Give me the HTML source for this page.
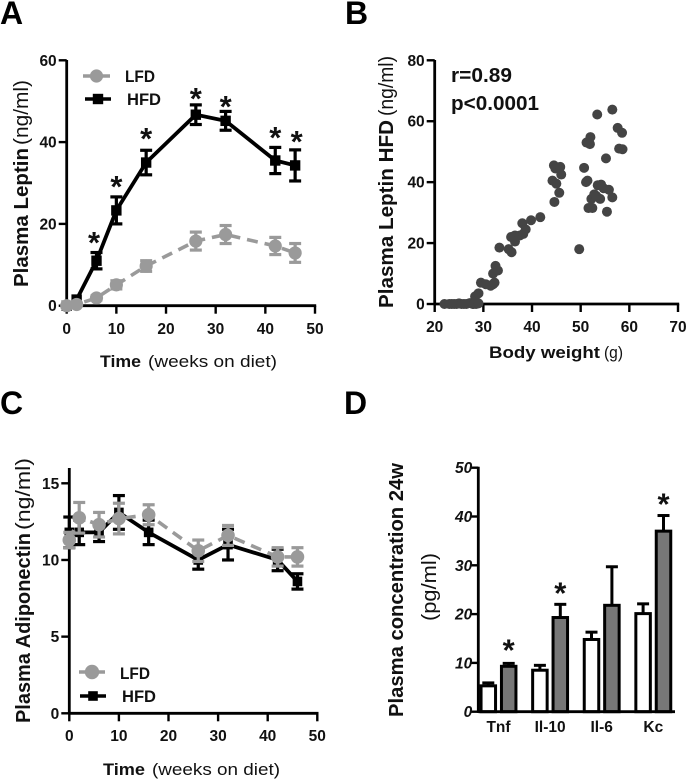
<!DOCTYPE html>
<html>
<head>
<meta charset="utf-8">
<style>
html,body{margin:0;padding:0;background:#fff;}
svg{display:block;}
text{font-family:"Liberation Sans",sans-serif;fill:#111;}
.b{font-weight:bold;}
.t{font-weight:bold;font-size:15.5px;}
.pl{font-weight:bold;font-size:32px;fill:#000;}
</style>
</head>
<body>
<svg id="fig" width="687" height="779" viewBox="0 0 687 779" xmlns="http://www.w3.org/2000/svg">
  <text class="pl" x="0" y="24">A</text>
  <text class="pl" x="345" y="24">B</text>
  <text class="pl" x="0" y="414">C</text>
  <text class="pl" x="344" y="414">D</text>

  <text class="b" transform="translate(28,287) rotate(-90)" font-size="20" textLength="139" lengthAdjust="spacingAndGlyphs">Plasma Leptin</text>
  <text transform="translate(28,145) rotate(-90)" font-size="20" textLength="65" lengthAdjust="spacingAndGlyphs">(ng/ml)</text>
  <text class="b" x="100" y="367" font-size="17" textLength="41" lengthAdjust="spacingAndGlyphs">Time</text>
  <text x="148" y="367" font-size="17" textLength="129" lengthAdjust="spacingAndGlyphs">(weeks on diet)</text>
  <text class="b" x="125" y="82" font-size="17" textLength="30" lengthAdjust="spacingAndGlyphs">LFD</text>
  <text class="b" x="127" y="105" font-size="17" textLength="34" lengthAdjust="spacingAndGlyphs">HFD</text>

  <text class="b" transform="translate(393,308) rotate(-90)" font-size="20" textLength="188" lengthAdjust="spacingAndGlyphs">Plasma Leptin HFD</text>
  <text transform="translate(393,116) rotate(-90)" font-size="20" textLength="60" lengthAdjust="spacingAndGlyphs">(ng/ml)</text>
  <text class="b" x="489" y="358" font-size="17" textLength="111" lengthAdjust="spacingAndGlyphs">Body weight</text>
  <text x="604" y="358" font-size="17" textLength="19" lengthAdjust="spacingAndGlyphs">(g)</text>
  <text class="b" x="451" y="82" font-size="20" textLength="61" lengthAdjust="spacingAndGlyphs">r=0.89</text>
  <text class="b" x="451" y="110" font-size="20" textLength="88" lengthAdjust="spacingAndGlyphs">p&lt;0.0001</text>

  <text class="b" transform="translate(30,723) rotate(-90)" font-size="20" textLength="190" lengthAdjust="spacingAndGlyphs">Plasma Adiponectin</text>
  <text transform="translate(30,530) rotate(-90)" font-size="20" textLength="72" lengthAdjust="spacingAndGlyphs">(ng/ml)</text>
  <text class="b" x="103" y="775" font-size="17" textLength="42" lengthAdjust="spacingAndGlyphs">Time</text>
  <text x="152" y="775" font-size="17" textLength="128" lengthAdjust="spacingAndGlyphs">(weeks on diet)</text>
  <text class="b" x="120" y="679" font-size="17" textLength="30" lengthAdjust="spacingAndGlyphs">LFD</text>
  <text class="b" x="122" y="702" font-size="17" textLength="34" lengthAdjust="spacingAndGlyphs">HFD</text>

  <text class="b" transform="translate(403,717) rotate(-90)" font-size="20" textLength="254" lengthAdjust="spacingAndGlyphs">Plasma concentration 24w</text>
  <text transform="translate(436,621) rotate(-90)" font-size="20" textLength="68" lengthAdjust="spacingAndGlyphs">(pg/ml)</text>
</svg>
<script>
// Panel A data
var aWeeks = [0, 2, 6, 10, 16, 26, 32, 42, 46];
var aLfd = [0, 0.3, 1.9, 5.1, 9.7, 15.8, 17.4, 14.6, 12.9];
var aLfdErr = [0, 0, 0.5, 1, 1.3, 2.2, 2.2, 2.1, 2.3];
var aHfd = [0, 1.5, 11, 23.3, 35, 46.7, 45.2, 35.5, 34.3];
var aHfdErr = [0, 0, 2, 3.3, 3, 2.4, 2.3, 3.2, 3.8];
var aStarWeeks = [5.5, 10, 16, 26, 32, 42, 46.3];
var aStarLevels = [16.8, 30.5, 42.2, 52, 50, 42.5, 41.5];
var aXTicks = [0, 10, 20, 30, 40, 50];
var aYTicks = [0, 20, 40, 60];
// Panel B data
var bWeight = [22,23,23.5,24,24.5,25,25.5,26,26.5,27.2,27.8,28,28.5,29,28.3,29,29.5,30.5,31.5,32,32.3,32,32.5,33,33.3,35.2,35.8,35.7,36.5,36.5,37.5,38,38.2,38.7,39.8,41.7,44.5,44.2,44.8,45.8,46,45,45.6,44.6,49.7,50.7,51.1,51.4,51.2,51.9,52,51.6,52.4,52.2,52.8,53.2,53.5,54,54.2,54.7,55.2,55.4,55.8,56.5,53.4,56.5,57.6,58.5,57.9,58.6];
var bLeptin = [0,0,0,0,0,0.2,0,0,0,0.3,0,0,0,0.2,2.5,3.5,7,6.5,6,6.5,7,10,12.5,11,18.5,18,17,22,22.5,20.5,22.5,26.5,23,24.5,27.5,28.5,45.5,40.5,44.5,45,42.5,39.5,36.5,33.5,18,44.7,40,40.5,53,52.5,54.8,31.5,31.5,34.5,36,35.5,39,34.5,39.2,38,47.8,30.3,37.5,35,62.2,63.8,57.8,56.2,51,50.8];
var bXTicks = [20, 30, 40, 50, 60, 70];
var bYTicks = [0, 20, 40, 60, 80];
// Panel C data
var cWeeks = [0, 2, 6, 10, 16, 26, 32, 42, 46];
var cLfd = [11.3, 12.75, 12.3, 12.7, 12.95, 10.6, 11.6, 10.2, 10.2];
var cLfdErr = [0.5, 1, 0.8, 1, 0.65, 0.7, 0.65, 0.6, 0.6];
var cHfd = [11.8, 11.8, 11.8, 13.1, 11.8, 10, 11, 10, 8.6];
var cHfdErr = [1, 0.8, 0.6, 1.1, 0.8, 0.6, 1, 0.7, 0.5];
var cXTicks = [0, 10, 20, 30, 40, 50];
var cYTicks = [0, 5, 10, 15];
// Panel D data
var dCategories = ["Tnf", "Il-10", "Il-6", "Kc"];
var dLfd = [5.3, 8.5, 14.8, 20.1];
var dLfdErr = [0.6, 1, 1.5, 2];
var dHfd = [9.3, 19.3, 21.8, 37];
var dHfdErr = [0.6, 2.7, 7.9, 3.2];
var dStarred = [1, 1, 0, 1];
var dStarLevels = [13.8, 25.5, 0, 43.7];
var dYTicks = [0, 10, 20, 30, 40, 50];

var NS = 'http://www.w3.org/2000/svg';
var svg = document.getElementById('fig');
var GREY = '#9a9a9a', BLACK = '#000';

function scale(d0, d1, p0, p1) {
  return function (v) { return p0 + (v - d0) / (d1 - d0) * (p1 - p0); };
}
function make(tag, attrs) {
  var e = document.createElementNS(NS, tag);
  for (var k in attrs) e.setAttribute(k, attrs[k]);
  svg.appendChild(e);
  return e;
}
function seg(x1, y1, x2, y2, color, w) {
  return make('line', { x1: x1, y1: y1, x2: x2, y2: y2, stroke: color, 'stroke-width': w });
}
function label(x, y, str, anchor, extra) {
  var e = make('text', { x: x, y: y, 'text-anchor': anchor, 'class': 't' });
  if (extra) e.setAttribute('font-style', extra);
  e.textContent = str;
  return e;
}
function axes(id, x, y, xTicks, yTicks, xBase, yTop, xBaseline, italic) {
  var el;
  var left = x(xTicks[0]), right = x(xTicks[xTicks.length - 1]);
  el = seg(left - 0, xBase, right + 1.2, xBase, BLACK, 2.8);
  
  
  el = seg(left, yTop, left, xBase + 1.2, BLACK, 2.8);
  
  
  xTicks.forEach(function (t) {
    var m = seg(x(t), xBase, x(t), xBase + 8, BLACK, 2.4);
    
    
    var l = label(x(t), xBaseline, String(t), 'middle');
    
    
  });
  yTicks.forEach(function (t) {
    var m = seg(left - 8, y(t), left, y(t), BLACK, 2.4);
    
    
    var l = label(left - 10, y(t) + 5.5, String(t), 'end');
    
    
  });
}
function errorBar(id, px, yTopPx, yBotPx, color) {
  var cap = 6, el;
  el = seg(px, yTopPx, px, yBotPx, color, 3.2);
  
  
  el = seg(px - cap, yTopPx, px + cap, yTopPx, color, 3.2);
  
  
  el = seg(px - cap, yBotPx, px + cap, yBotPx, color, 3.2);
  
  
}
function series(id, x, y, xs, vals, errs, color, dashed, shape, r) {
  var pts = xs.map(function (d, i) { return x(d) + ',' + y(vals[i]); }).join(' ');
  var line = make('polyline', { points: pts, fill: 'none', stroke: color, 'stroke-width': dashed ? 3.6 : 3.8 });
  if (dashed) line.setAttribute('stroke-dasharray', '11 7');
  
  
  xs.forEach(function (d, i) {
    if (errs[i] > 0) errorBar(id, x(d), y(vals[i] + errs[i]), y(vals[i] - errs[i]), color);
  });
  xs.forEach(function (d, i) {
    var m;
    if (shape === 'circle') m = make('circle', { cx: x(d), cy: y(vals[i]), r: r, fill: color });
    else m = make('rect', { x: x(d) - r, y: y(vals[i]) - r, width: 2 * r, height: 2 * r, fill: color });
    
    
  });
}
function star(px, py, name) {
  var e = make('text', { x: px, y: py + 16, 'text-anchor': 'middle', 'font-size': 31, 'font-weight': 'bold', fill: '#000' });
  e.textContent = '*';
  
  
}
function legendItem(id, x0, x1, cy, color, shape, r, dashed) {
  var el = seg(x0, cy, x1, cy, color, 3.6);
  
  
  var mx = (x0 + x1) / 2, m;
  if (shape === 'circle') m = make('circle', { cx: mx, cy: cy, r: r, fill: color });
  else m = make('rect', { x: mx - r, y: cy - r, width: 2 * r, height: 2 * r, fill: color });
  
  
}

// Panel A
var ax = scale(0, 50, 66.7, 315), ay = scale(0, 60, 305.7, 60.3);
axes('a', ax, ay, aXTicks, aYTicks, 305.7, 60, 334);
series('a-hfd', ax, ay, aWeeks, aHfd, aHfdErr, BLACK, false, 'rect', 5.2);
series('a-lfd', ax, ay, aWeeks, aLfd, aLfdErr, GREY, true, 'circle', 6.6);
aStarWeeks.forEach(function (w, i) { star(ax(w), ay(aStarLevels[i]), 'a-significance-star'); });
legendItem('a-lfd', 83, 110, 76, GREY, 'circle', 6.6);
legendItem('a-hfd', 85, 111, 99, BLACK, 'rect', 5.2);

// Panel B
var bx = scale(20, 70, 434.7, 678), by = scale(0, 80, 304, 60.3);
axes('b', bx, by, bXTicks, bYTicks, 304, 60, 332);
bWeight.forEach(function (w, i) {
  var c = make('circle', { cx: bx(w), cy: by(bLeptin[i]), r: 5, fill: '#444' });
  
  
});

// Panel C
var cx = scale(0, 50, 69.3, 317.3), cy = scale(0, 15, 713.3, 483.3);
axes('c', cx, cy, cXTicks, cYTicks, 713.3, 468, 741);
series('c-hfd', cx, cy, cWeeks, cHfd, cHfdErr, BLACK, false, 'rect', 4.8);
series('c-lfd', cx, cy, cWeeks, cLfd, cLfdErr, GREY, true, 'circle', 6.8);
legendItem('c-lfd', 79, 105, 672, GREY, 'circle', 7.2);
legendItem('c-hfd', 80, 106, 696, BLACK, 'rect', 4.8);

// Panel D
var dy = scale(0, 50, 711.7, 467.7);
function dGroup(i) { return 498.5 + 51.6 * i; }
var dBarOffset = 10.2, dBarW = 14.5;
(function () {
  var el;
  var left = 478.3, base = dy(0);
  dCategories.forEach(function (name, i) {
    var g = dGroup(i);
    [[dLfd[i], dLfdErr[i], -dBarOffset, '#fff', 'lfd'], [dHfd[i], dHfdErr[i], dBarOffset, '#777', 'hfd']].forEach(function (b) {
      var px = g + b[2];
      var err = seg(px, dy(b[0] + b[1]), px, dy(b[0]), BLACK, 3);
      
      
      var cap = seg(px - 6, dy(b[0] + b[1]), px + 6, dy(b[0] + b[1]), BLACK, 3);
      
      
      var r = make('rect', { x: px - dBarW / 2, y: dy(b[0]), width: dBarW, height: base - dy(b[0]), fill: b[3], stroke: BLACK, 'stroke-width': 3 });
      
      
    });
    var l = label(g, 732, name, 'middle');
    
    
    if (dStarred[i]) star(g + dBarOffset, dy(dStarLevels[i]), 'd-significance-star');
  });
  el = seg(left, base, 675, base, BLACK, 2.8);
  
  
  el = seg(left, dy(50) - 1, left, base + 1.2, BLACK, 2.8);
  
  
  dYTicks.forEach(function (t) {
    var m = seg(left - 8, dy(t), left, dy(t), BLACK, 2.4);
    
    
    var tl = label(left - 6, dy(t) + 5.5, String(t), 'end', 'italic');
    
    
  });
})();
</script>
</body>
</html>
